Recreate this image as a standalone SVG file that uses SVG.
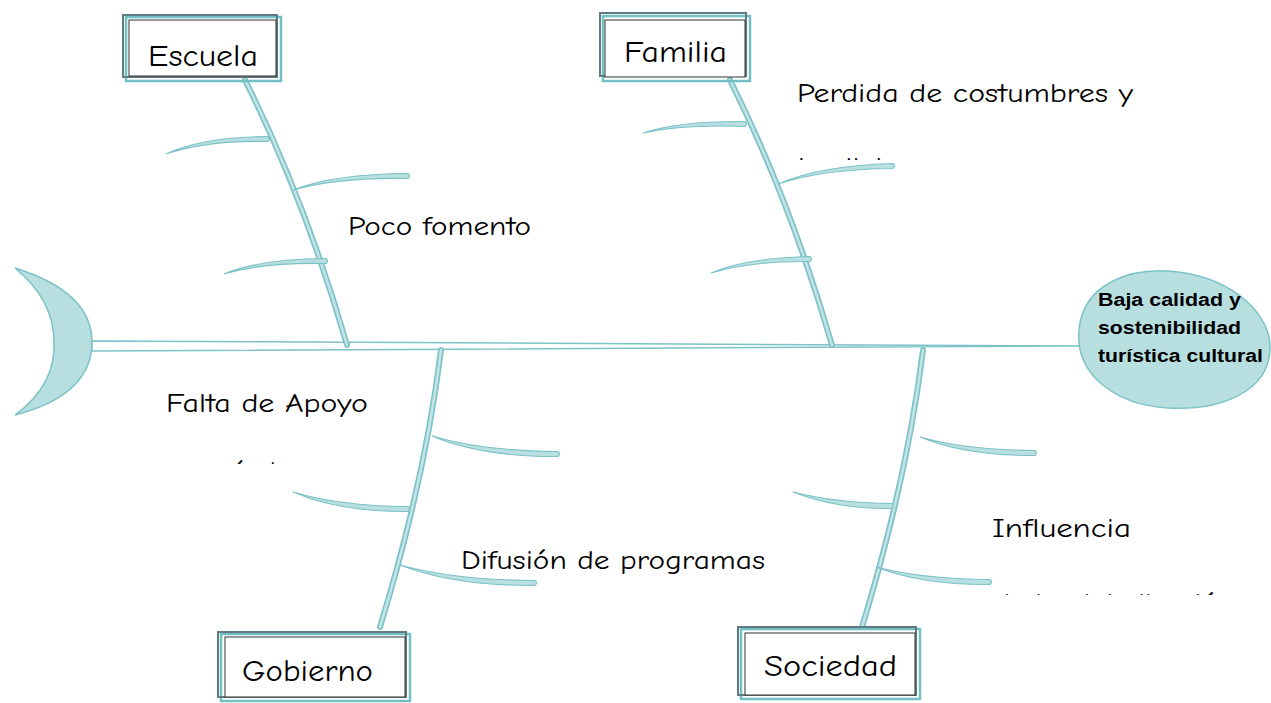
<svg xmlns="http://www.w3.org/2000/svg" width="1271" height="703" viewBox="0 0 1271 703">
<style>
.hand{font-family:"Comic Sans MS","Comic Neue","Open Sans",sans-serif;fill:#000;}
.lbl{font-size:27px;}
.box-t{font-size:30px;}
.head-t{font-family:"Liberation Sans",Arial,sans-serif;font-weight:bold;font-size:17.5px;fill:#000;}
.teal{fill:none;stroke:#72bfc4;stroke-width:2.5;}
.gray{fill:none;stroke:#5f7a80;stroke-width:2;}
.inner{fill:#fff;stroke:#333;stroke-width:1;}
.bone-o{fill:none;stroke:#7cc2c7;stroke-width:6;stroke-linecap:round;}
.bone-i{fill:none;stroke:#c2e4e6;stroke-width:2.6;stroke-linecap:round;}
.rib{fill:#b8dfe1;stroke:#7cc2c7;stroke-width:1.1;}
.shape{fill:#b7dfe0;stroke:#7cc2c7;stroke-width:1.5;}
</style>
<defs>
<clipPath id="c1"><rect x="780" y="140" width="200" height="20"/></clipPath>
<clipPath id="c2"><rect x="160" y="440" width="200" height="24"/></clipPath>
<clipPath id="c3"><rect x="980" y="575" width="291" height="20"/></clipPath>
</defs>

<g id="tail">
<path class="shape" d="M15,268 Q92,292 92,342 Q92,395 15,415 Q56,385 54,342 Q54,300 15,268 Z"/>
</g>

<g id="connectors">
<path d="M92,341 L1080,346 L92,351 Z" fill="#fff" stroke="#7cc2c7" stroke-width="1.5"/>
<path class="bone-o" d="M245,80 Q305,200 347,345"/>
<path class="bone-i" d="M245,80 Q305,200 347,345"/>
<path class="bone-o" d="M730,80 Q790,200 832,345"/>
<path class="bone-i" d="M730,80 Q790,200 832,345"/>
<path class="bone-o" d="M441,350 Q425,480 380,627"/>
<path class="bone-i" d="M441,350 Q425,480 380,627"/>
<path class="bone-o" d="M923,350 Q907,480 862,627"/>
<path class="bone-i" d="M923,350 Q907,480 862,627"/>
<path class="rib" d="M166,154 Q202,137 268,136.5 Q271,139 268,141.5 Q207,140 166,154 Z"/>
<path class="rib" d="M293,190 Q333,174 408,173.5 Q411,176 408,178.5 Q339,177 293,190 Z"/>
<path class="rib" d="M224,274 Q260,259 326,258.5 Q329,261 326,263.5 Q265,262 224,274 Z"/>
<path class="rib" d="M643,133 Q679,121 745,121.5 Q748,124 745,126.5 Q684,124 643,133 Z"/>
<path class="rib" d="M778,184 Q818,166 893,163.5 Q896,166 893,168.5 Q824,169 778,184 Z"/>
<path class="rib" d="M711,273 Q746,258 810,256.5 Q813,259 810,261.5 Q751,261 711,273 Z"/>
<path class="rib" d="M432,436 Q482,451 558,451.5 Q561,454 558,456.5 Q482,457 432,436 Z"/>
<path class="rib" d="M293,492 Q339,506 408,506.5 Q411,509 408,511.5 Q339,512 293,492 Z"/>
<path class="rib" d="M400,565 Q454,580 535,580.5 Q538,583 535,585.5 Q454,586 400,565 Z"/>
<path class="rib" d="M920,437 Q966,450 1035,450.5 Q1038,453 1035,455.5 Q966,456 920,437 Z"/>
<path class="rib" d="M793,492 Q836,503 892,503.5 Q895,506 892,508.5 Q836,509 793,492 Z"/>
<path class="rib" d="M876,567 Q922,579 990,579.5 Q993,582 990,584.5 Q922,585 876,567 Z"/>
</g>

<g id="head">
<path class="shape" d="M1079,330 C1083,284 1130,266 1178,272 C1234,279 1272,315 1270,350 C1268,392 1220,411 1168,408 C1116,405 1075,375 1079,330 Z"/>
<text class="head-t" x="1098" y="306" textLength="143" lengthAdjust="spacingAndGlyphs">Baja calidad y</text>
<text class="head-t" x="1098" y="334" textLength="143" lengthAdjust="spacingAndGlyphs">sostenibilidad</text>
<text class="head-t" x="1098" y="362" textLength="165" lengthAdjust="spacingAndGlyphs">turística cultural</text>
</g>

<g id="escuela">
<rect class="teal" x="126" y="17" width="155" height="64"/>
<rect class="gray" x="123" y="15" width="154" height="62"/>
<rect class="inner" x="129" y="20" width="147" height="56"/>
<text class="hand box-t" x="148" y="66" textLength="110" lengthAdjust="spacingAndGlyphs">Escuela</text>
</g>

<g id="familia">
<rect class="teal" x="603" y="16" width="147" height="65"/>
<rect class="gray" x="600" y="13" width="146" height="63"/>
<rect class="inner" x="605" y="20" width="140" height="57"/>
<text class="hand box-t" x="624" y="62" textLength="103" lengthAdjust="spacingAndGlyphs">Familia</text>
</g>

<g id="gobierno">
<rect class="teal" x="221" y="634" width="189" height="67"/>
<rect class="gray" x="218" y="632" width="188" height="65"/>
<rect class="inner" x="225" y="637" width="180" height="60"/>
<text class="hand box-t" x="242" y="681" textLength="131" lengthAdjust="spacingAndGlyphs">Gobierno</text>
</g>

<g id="sociedad">
<rect class="teal" x="741" y="629" width="179" height="70"/>
<rect class="gray" x="738" y="627" width="178" height="68"/>
<rect class="inner" x="745" y="633" width="170" height="62"/>
<text class="hand box-t" x="764" y="676" textLength="133" lengthAdjust="spacingAndGlyphs">Sociedad</text>
</g>

<g id="labels">
<text class="hand lbl" x="348" y="235" textLength="183" lengthAdjust="spacingAndGlyphs">Poco fomento</text>
<text class="hand lbl" x="797" y="102" textLength="336" lengthAdjust="spacingAndGlyphs">Perdida de costumbres y</text>
<text class="hand lbl" x="797" y="176" textLength="150" lengthAdjust="spacingAndGlyphs" clip-path="url(#c1)">tradiciones</text>
<text class="hand lbl" x="166" y="412" textLength="202" lengthAdjust="spacingAndGlyphs">Falta de Apoyo</text>
<text class="hand lbl" x="174" y="480" textLength="130" lengthAdjust="spacingAndGlyphs" clip-path="url(#c2)">económico</text>
<text class="hand lbl" x="461" y="569" textLength="304" lengthAdjust="spacingAndGlyphs">Difusión de programas</text>
<text class="hand lbl" x="992" y="537" textLength="139" lengthAdjust="spacingAndGlyphs">Influencia</text>
<text class="hand lbl" x="994" y="612" textLength="240" lengthAdjust="spacingAndGlyphs" clip-path="url(#c3)">de la globalización</text>
</g>
</svg>
